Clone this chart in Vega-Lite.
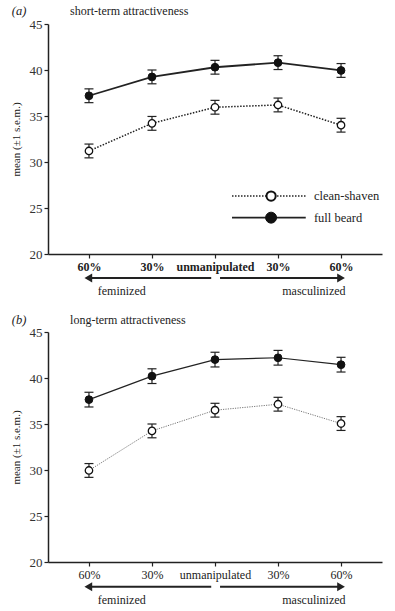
{
  "$schema": "https://vega.github.io/schema/vega-lite/v6.json",
  "background": "white",
  "padding": {"left": 10, "top": 5, "right": 5, "bottom": 5},
  "config": {"font": "Liberation Serif", "view": {"stroke": null}, "concat": {"spacing": 17}},
  "datasets": {
    "means": [
      {"panel": "a", "cond": 0, "series": "full beard", "mean": 37.2, "lo": 36.45, "hi": 37.95},
      {"panel": "a", "cond": 1, "series": "full beard", "mean": 39.25, "lo": 38.5, "hi": 40.0},
      {"panel": "a", "cond": 2, "series": "full beard", "mean": 40.3, "lo": 39.55, "hi": 41.05},
      {"panel": "a", "cond": 3, "series": "full beard", "mean": 40.8, "lo": 40.05, "hi": 41.55},
      {"panel": "a", "cond": 4, "series": "full beard", "mean": 39.95, "lo": 39.2, "hi": 40.7},
      {"panel": "a", "cond": 0, "series": "clean-shaven", "mean": 31.2, "lo": 30.45, "hi": 31.95},
      {"panel": "a", "cond": 1, "series": "clean-shaven", "mean": 34.2, "lo": 33.45, "hi": 34.95},
      {"panel": "a", "cond": 2, "series": "clean-shaven", "mean": 35.95, "lo": 35.2, "hi": 36.7},
      {"panel": "a", "cond": 3, "series": "clean-shaven", "mean": 36.2, "lo": 35.45, "hi": 36.95},
      {"panel": "a", "cond": 4, "series": "clean-shaven", "mean": 34.0, "lo": 33.25, "hi": 34.75},
      {"panel": "b", "cond": 0, "series": "full beard", "mean": 37.65, "lo": 36.85, "hi": 38.45},
      {"panel": "b", "cond": 1, "series": "full beard", "mean": 40.2, "lo": 39.4, "hi": 41.0},
      {"panel": "b", "cond": 2, "series": "full beard", "mean": 42.0, "lo": 41.2, "hi": 42.8},
      {"panel": "b", "cond": 3, "series": "full beard", "mean": 42.2, "lo": 41.4, "hi": 43.0},
      {"panel": "b", "cond": 4, "series": "full beard", "mean": 41.45, "lo": 40.65, "hi": 42.25},
      {"panel": "b", "cond": 0, "series": "clean-shaven", "mean": 29.95, "lo": 29.2, "hi": 30.7},
      {"panel": "b", "cond": 1, "series": "clean-shaven", "mean": 34.25, "lo": 33.5, "hi": 35.0},
      {"panel": "b", "cond": 2, "series": "clean-shaven", "mean": 36.5, "lo": 35.75, "hi": 37.25},
      {"panel": "b", "cond": 3, "series": "clean-shaven", "mean": 37.15, "lo": 36.4, "hi": 37.9},
      {"panel": "b", "cond": 4, "series": "clean-shaven", "mean": 35.05, "lo": 34.3, "hi": 35.8}
    ]
  },
  "vconcat": [
    {
      "width": 334, "height": 230,
      "data": {"name": "means"},
      "transform": [{"filter": "datum.panel == 'a'"}],
      "layer": [
        {
          "mark": {"type": "rule", "color": "#222", "strokeWidth": 1.2},
          "encoding": {
            "x": {"field": "cond", "type": "quantitative", "title": null, "scale": {"domain": [-0.65, 4.65], "nice": false, "zero": false},
              "axis": {"values": [0, 1, 2, 3, 4], "labelExpr": "datum.value == 2 ? 'unmanipulated' : (datum.value == 1 || datum.value == 3) ? '30%' : '60%'", "grid": false, "domainColor": "#222", "domainWidth": 1.5, "tickColor": "#222", "tickSize": 4, "tickWidth": 1.2, "labelFont": "Liberation Serif", "labelFontSize": 12, "labelFontWeight": "bold", "labelColor": "#222", "labelPadding": 3, "labelFlush": false, "labelOverlap": false}},
            "y": {"field": "lo", "type": "quantitative", "title": "mean (±1 s.e.m.)", "scale": {"domain": [20, 45], "nice": false, "zero": false},
              "axis": {"values": [20, 25, 30, 35, 40, 45], "grid": false, "domainColor": "#222", "domainWidth": 1.5, "tickColor": "#222", "tickSize": 4, "tickWidth": 1.2, "labelFont": "Liberation Serif", "labelFontSize": 13, "labelColor": "#333", "labelPadding": 2, "titleFont": "Liberation Serif", "titleFontSize": 11, "titleFontWeight": "normal", "titleColor": "#222", "titlePadding": 8}},
            "y2": {"field": "hi"}
          }
        },
        {
          "mark": {"type": "tick", "orient": "horizontal", "size": 9, "thickness": 1.2, "color": "#222", "opacity": 1},
          "encoding": {"x": {"field": "cond", "type": "quantitative", "title": null}, "y": {"field": "lo", "type": "quantitative", "title": "mean (±1 s.e.m.)"}}
        },
        {
          "mark": {"type": "tick", "orient": "horizontal", "size": 9, "thickness": 1.2, "color": "#222", "opacity": 1},
          "encoding": {"x": {"field": "cond", "type": "quantitative", "title": null}, "y": {"field": "hi", "type": "quantitative", "title": "mean (±1 s.e.m.)"}}
        },
        {
          "transform": [{"filter": "datum.series == 'clean-shaven'"}],
          "mark": {"type": "line", "color": "#222", "strokeWidth": 1.5, "strokeDash": [1.5, 1.5]},
          "encoding": {"x": {"field": "cond", "type": "quantitative", "title": null}, "y": {"field": "mean", "type": "quantitative", "title": "mean (±1 s.e.m.)"}}
        },
        {
          "transform": [{"filter": "datum.series == 'full beard'"}],
          "mark": {"type": "line", "color": "#222", "strokeWidth": 1.8},
          "encoding": {"x": {"field": "cond", "type": "quantitative", "title": null}, "y": {"field": "mean", "type": "quantitative", "title": "mean (±1 s.e.m.)"}}
        },
        {
          "transform": [{"filter": "datum.series == 'clean-shaven'"}],
          "mark": {"type": "point", "shape": "circle", "filled": true, "fill": "white", "stroke": "#111", "strokeWidth": 1.3, "size": 55, "opacity": 1},
          "encoding": {"x": {"field": "cond", "type": "quantitative", "title": null}, "y": {"field": "mean", "type": "quantitative", "title": "mean (±1 s.e.m.)"}}
        },
        {
          "transform": [{"filter": "datum.series == 'full beard'"}],
          "mark": {"type": "point", "shape": "circle", "filled": true, "fill": "#111", "stroke": "#111", "strokeWidth": 1, "size": 60, "opacity": 1},
          "encoding": {"x": {"field": "cond", "type": "quantitative", "title": null}, "y": {"field": "mean", "type": "quantitative", "title": "mean (±1 s.e.m.)"}}
        },
        {
          "data": {"values": [{"label": "(a)"}]},
          "mark": {"type": "text", "fontStyle": "italic", "fontSize": 12.5, "color": "#222", "align": "center", "baseline": "middle"},
          "encoding": {"x": {"datum": -1.11, "type": "quantitative"}, "y": {"datum": 46.4, "type": "quantitative"}, "text": {"field": "label"}}
        },
        {
          "data": {"values": [{"label": "short-term attractiveness"}]},
          "mark": {"type": "text", "fontSize": 12, "color": "#222", "align": "left", "baseline": "middle"},
          "encoding": {"x": {"datum": -0.3, "type": "quantitative"}, "y": {"datum": 46.4, "type": "quantitative"}, "text": {"field": "label"}}
        },
        {
          "data": {"values": [{"label": "clean-shaven"}]},
          "mark": {"type": "rule", "color": "#222", "strokeWidth": 1.5, "strokeDash": [1.5, 1.5]},
          "encoding": {"x": {"datum": 2.27, "type": "quantitative"}, "x2": {"datum": 3.44}, "y": {"datum": 26.3, "type": "quantitative"}}
        },
        {
          "data": {"values": [{"label": "full beard"}]},
          "mark": {"type": "rule", "color": "#222", "strokeWidth": 1.8},
          "encoding": {"x": {"datum": 2.27, "type": "quantitative"}, "x2": {"datum": 3.44}, "y": {"datum": 23.95, "type": "quantitative"}}
        },
        {
          "data": {"values": [{"label": "clean-shaven"}]},
          "mark": {"type": "point", "shape": "circle", "filled": true, "fill": "white", "stroke": "#111", "strokeWidth": 2, "size": 85, "opacity": 1},
          "encoding": {"x": {"datum": 2.89, "type": "quantitative"}, "y": {"datum": 26.3, "type": "quantitative"}}
        },
        {
          "data": {"values": [{"label": "full beard"}]},
          "mark": {"type": "point", "shape": "circle", "filled": true, "fill": "#111", "stroke": "#111", "strokeWidth": 1, "size": 120, "opacity": 1},
          "encoding": {"x": {"datum": 2.89, "type": "quantitative"}, "y": {"datum": 23.95, "type": "quantitative"}}
        },
        {
          "data": {"values": [{"label": "clean-shaven"}]},
          "mark": {"type": "text", "fontSize": 12.5, "color": "#222", "align": "left", "baseline": "middle"},
          "encoding": {"x": {"datum": 3.57, "type": "quantitative"}, "y": {"datum": 26.3, "type": "quantitative"}, "text": {"field": "label"}}
        },
        {
          "data": {"values": [{"label": "full beard"}]},
          "mark": {"type": "text", "fontSize": 12.5, "color": "#222", "align": "left", "baseline": "middle"},
          "encoding": {"x": {"datum": 3.57, "type": "quantitative"}, "y": {"datum": 23.95, "type": "quantitative"}, "text": {"field": "label"}}
        },
        {
          "data": {"values": [{"label": "feminized"}]},
          "mark": {"type": "rule", "color": "#222", "strokeWidth": 2},
          "encoding": {"x": {"datum": 0.03, "type": "quantitative"}, "x2": {"datum": 1.94}, "y": {"datum": 17.4, "type": "quantitative"}}
        },
        {
          "data": {"values": [{"label": "masculinized"}]},
          "mark": {"type": "rule", "color": "#222", "strokeWidth": 2},
          "encoding": {"x": {"datum": 2.08, "type": "quantitative"}, "x2": {"datum": 3.97}, "y": {"datum": 17.4, "type": "quantitative"}}
        },
        {
          "data": {"values": [{"label": "feminized"}]},
          "mark": {"type": "point", "shape": "triangle-left", "filled": true, "color": "#222", "size": 80, "opacity": 1},
          "encoding": {"x": {"datum": -0.01, "type": "quantitative"}, "y": {"datum": 17.4, "type": "quantitative"}}
        },
        {
          "data": {"values": [{"label": "masculinized"}]},
          "mark": {"type": "point", "shape": "triangle-right", "filled": true, "color": "#222", "size": 80, "opacity": 1},
          "encoding": {"x": {"datum": 4.0, "type": "quantitative"}, "y": {"datum": 17.4, "type": "quantitative"}}
        },
        {
          "data": {"values": [{"label": "feminized", "at": 0.52}, {"label": "masculinized", "at": 3.57}]},
          "mark": {"type": "text", "fontSize": 12, "color": "#222", "align": "center", "baseline": "middle"},
          "encoding": {"x": {"field": "at", "type": "quantitative", "title": null}, "y": {"datum": 16.0, "type": "quantitative"}, "text": {"field": "label"}}
        }
      ]
    },
    {
      "width": 334, "height": 230,
      "data": {"name": "means"},
      "transform": [{"filter": "datum.panel == 'b'"}],
      "layer": [
        {
          "mark": {"type": "rule", "color": "#222", "strokeWidth": 1.2},
          "encoding": {
            "x": {"field": "cond", "type": "quantitative", "title": null, "scale": {"domain": [-0.65, 4.65], "nice": false, "zero": false},
              "axis": {"values": [0, 1, 2, 3, 4], "labelExpr": "datum.value == 2 ? 'unmanipulated' : (datum.value == 1 || datum.value == 3) ? '30%' : '60%'", "grid": false, "domainColor": "#222", "domainWidth": 1.5, "tickColor": "#222", "tickSize": 4, "tickWidth": 1.2, "labelFont": "Liberation Serif", "labelFontSize": 12, "labelFontWeight": "normal", "labelColor": "#222", "labelPadding": 3, "labelFlush": false, "labelOverlap": false}},
            "y": {"field": "lo", "type": "quantitative", "title": "mean (±1 s.e.m.)", "scale": {"domain": [20, 45], "nice": false, "zero": false},
              "axis": {"values": [20, 25, 30, 35, 40, 45], "grid": false, "domainColor": "#222", "domainWidth": 1.5, "tickColor": "#222", "tickSize": 4, "tickWidth": 1.2, "labelFont": "Liberation Serif", "labelFontSize": 13, "labelColor": "#333", "labelPadding": 2, "titleFont": "Liberation Serif", "titleFontSize": 11, "titleFontWeight": "normal", "titleColor": "#222", "titlePadding": 8}},
            "y2": {"field": "hi"}
          }
        },
        {
          "mark": {"type": "tick", "orient": "horizontal", "size": 9, "thickness": 1.2, "color": "#222", "opacity": 1},
          "encoding": {"x": {"field": "cond", "type": "quantitative", "title": null}, "y": {"field": "lo", "type": "quantitative", "title": "mean (±1 s.e.m.)"}}
        },
        {
          "mark": {"type": "tick", "orient": "horizontal", "size": 9, "thickness": 1.2, "color": "#222", "opacity": 1},
          "encoding": {"x": {"field": "cond", "type": "quantitative", "title": null}, "y": {"field": "hi", "type": "quantitative", "title": "mean (±1 s.e.m.)"}}
        },
        {
          "transform": [{"filter": "datum.series == 'clean-shaven'"}],
          "mark": {"type": "line", "color": "#777", "strokeWidth": 1, "strokeDash": [1.2, 1.2]},
          "encoding": {"x": {"field": "cond", "type": "quantitative", "title": null}, "y": {"field": "mean", "type": "quantitative", "title": "mean (±1 s.e.m.)"}}
        },
        {
          "transform": [{"filter": "datum.series == 'full beard'"}],
          "mark": {"type": "line", "color": "#222", "strokeWidth": 1.2},
          "encoding": {"x": {"field": "cond", "type": "quantitative", "title": null}, "y": {"field": "mean", "type": "quantitative", "title": "mean (±1 s.e.m.)"}}
        },
        {
          "transform": [{"filter": "datum.series == 'clean-shaven'"}],
          "mark": {"type": "point", "shape": "circle", "filled": true, "fill": "white", "stroke": "#111", "strokeWidth": 1.3, "size": 55, "opacity": 1},
          "encoding": {"x": {"field": "cond", "type": "quantitative", "title": null}, "y": {"field": "mean", "type": "quantitative", "title": "mean (±1 s.e.m.)"}}
        },
        {
          "transform": [{"filter": "datum.series == 'full beard'"}],
          "mark": {"type": "point", "shape": "circle", "filled": true, "fill": "#111", "stroke": "#111", "strokeWidth": 1, "size": 60, "opacity": 1},
          "encoding": {"x": {"field": "cond", "type": "quantitative", "title": null}, "y": {"field": "mean", "type": "quantitative", "title": "mean (±1 s.e.m.)"}}
        },
        {
          "data": {"values": [{"label": "(b)"}]},
          "mark": {"type": "text", "fontStyle": "italic", "fontSize": 12.5, "color": "#222", "align": "center", "baseline": "middle"},
          "encoding": {"x": {"datum": -1.11, "type": "quantitative"}, "y": {"datum": 46.3, "type": "quantitative"}, "text": {"field": "label"}}
        },
        {
          "data": {"values": [{"label": "long-term attractiveness"}]},
          "mark": {"type": "text", "fontSize": 12, "color": "#222", "align": "left", "baseline": "middle"},
          "encoding": {"x": {"datum": -0.3, "type": "quantitative"}, "y": {"datum": 46.3, "type": "quantitative"}, "text": {"field": "label"}}
        },
        {
          "data": {"values": [{"label": "feminized"}]},
          "mark": {"type": "rule", "color": "#222", "strokeWidth": 2},
          "encoding": {"x": {"datum": 0.03, "type": "quantitative"}, "x2": {"datum": 1.94}, "y": {"datum": 17.3, "type": "quantitative"}}
        },
        {
          "data": {"values": [{"label": "masculinized"}]},
          "mark": {"type": "rule", "color": "#222", "strokeWidth": 2},
          "encoding": {"x": {"datum": 2.08, "type": "quantitative"}, "x2": {"datum": 3.97}, "y": {"datum": 17.3, "type": "quantitative"}}
        },
        {
          "data": {"values": [{"label": "feminized"}]},
          "mark": {"type": "point", "shape": "triangle-left", "filled": true, "color": "#222", "size": 80, "opacity": 1},
          "encoding": {"x": {"datum": -0.01, "type": "quantitative"}, "y": {"datum": 17.3, "type": "quantitative"}}
        },
        {
          "data": {"values": [{"label": "masculinized"}]},
          "mark": {"type": "point", "shape": "triangle-right", "filled": true, "color": "#222", "size": 80, "opacity": 1},
          "encoding": {"x": {"datum": 4.0, "type": "quantitative"}, "y": {"datum": 17.3, "type": "quantitative"}}
        },
        {
          "data": {"values": [{"label": "feminized", "at": 0.52}, {"label": "masculinized", "at": 3.57}]},
          "mark": {"type": "text", "fontSize": 12, "color": "#222", "align": "center", "baseline": "middle"},
          "encoding": {"x": {"field": "at", "type": "quantitative", "title": null}, "y": {"datum": 15.9, "type": "quantitative"}, "text": {"field": "label"}}
        }
      ]
    }
  ]
}
